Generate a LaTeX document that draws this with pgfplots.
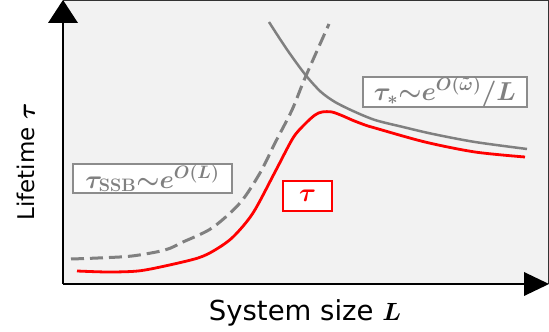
\documentclass[border=0pt]{standalone}
\usepackage{pgfplots}
\pgfplotsset{compat=1.18}
\usepackage{amsmath}
\usepackage{bm}
\usepackage{graphicx}
\usepackage[no-math]{fontspec}
\setmainfont{DejaVu Sans}
\definecolor{bgc}{RGB}{242,242,242}
\definecolor{lgray}{RGB}{128,128,128}
\definecolor{bgray}{RGB}{140,140,140}
\newcommand{\xf}{\fontsize{27.5}{31}\selectfont}
\newcommand{\yf}{\fontsize{23}{27}\selectfont}
\newcommand{\boxf}{\fontsize{20.74}{25}\selectfont}
\newcommand{\tl}{\mathord{\bm{\sim}}}
\begin{document}
\begin{tikzpicture}
\begin{axis}[
    x=1pt, y=1pt,
    xmin=0, xmax=485, ymin=0, ymax=283.5,
    axis line style={draw=none},
    ticks=none,
    clip=false,
    axis background/.style={fill=bgc},
    ]
% tau_SSB (dashed)
\addplot[lgray, line width=3pt, dash pattern=on 13pt off 6pt, smooth] coordinates {
 (8,25) (35,26) (69,28) (102,34) (120,42) (149,56) (177,81) (197,111)
 (212,141) (229,174) (242,206) (266,260)};
% tau_* (solid gray)
\addplot[lgray, line width=2.5pt, smooth] coordinates {
 (206,262) (215,248) (225,233) (235,219) (245,206) (258,192) (272,182)
 (290,173) (312,164) (340,157) (370,150) (412,142) (464,135)};
% tau (red)
\addplot[red, line width=2.8pt, smooth] coordinates {
 (14,13) (45,12) (75,13) (102,18) (135,26) (152,34) (170,47) (190,71)
 (212,112) (230,146) (242,160) (252,169) (259,172) (269,172) (280,168)
 (289,164) (302,159) (312,156) (362,142) (412,132) (462,127)};

\coordinate (O) at (axis cs:0,0);
\coordinate (TR) at (axis cs:485,283.5);
\coordinate (C1) at (axis cs:89.5,105.5);
\coordinate (C2) at (axis cs:382,192);
\coordinate (C3) at (axis cs:244.5,88);
\end{axis}

% frame and arrows
\draw[line width=0.8pt, black!80] (O |- TR) -- (TR) -- (TR |- O);
\draw[line width=2pt] (O) -- ++(0pt,262pt);
\fill ([shift={(-15pt,261pt)}]O) -- ([shift={(15pt,261pt)}]O) -- ([shift={(0pt,284pt)}]O) -- cycle;
\draw[line width=2pt] (O) -- ++(463pt,0pt);
\fill ([shift={(461pt,12pt)}]O) -- ([shift={(461pt,-12pt)}]O) -- ([shift={(486pt,0pt)}]O) -- cycle;

% labels in boxes
\node[draw=bgray, line width=1.6pt, fill=white, minimum width=159pt, minimum height=29pt, inner sep=0pt]
  at (C1) {\boxf\color{lgray}\scalebox{1.25}{$\bm{\tau}_{\bm{\mathbf{SSB}}}\tl\bm{e}^{\bm{O(L)}}$}};
\node[draw=bgray, line width=1.6pt, fill=white, minimum width=164pt, minimum height=30pt, inner sep=0pt]
  at (C2) {\boxf\color{lgray}\scalebox{1.25}{$\bm{\tau}_{\bm{*}}\tl\bm{e}^{\bm{O(\tilde{\omega})}}\bm{/L}$}};
\node[draw=red, line width=1.6pt, fill=white, minimum width=49pt, minimum height=30pt, inner sep=0pt]
  at (C3) {\boxf\color{red}\scalebox{1.25}{$\bm{\tau}$}};

% axis titles
\node[anchor=base] at ([shift={(242pt,-37pt)}]O) {\xf System size $\bm{L}$};
\node[anchor=base, rotate=90] at ([shift={(-28pt,122pt)}]O) {\yf Lifetime $\bm{\tau}$};

% page extent
\path ([shift={(-63pt,-48pt)}]O) rectangle ([shift={(486pt,284pt)}]O);
\end{tikzpicture}
\end{document}
